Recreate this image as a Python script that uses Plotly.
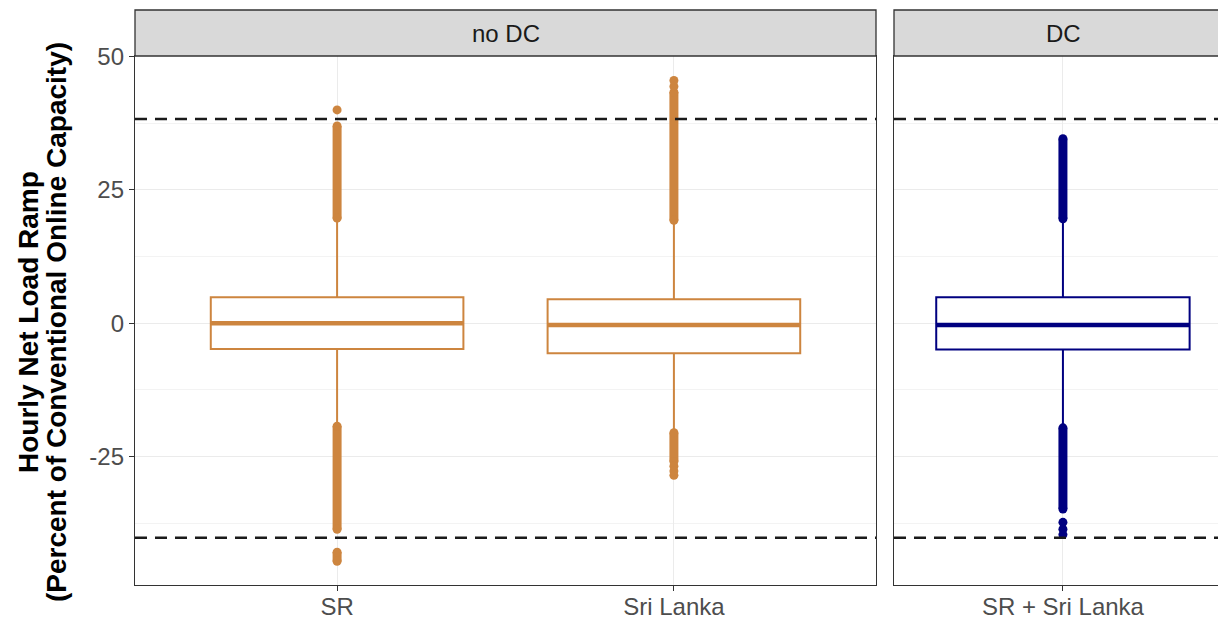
import plotly.graph_objects as go

# ---- data ---------------------------------------------------------------
categories = ["SR", "Sri Lanka", "SR + Sri Lanka"]
panels = ["no DC", "no DC", "DC"]
positions = [1, 2, 1]
colors = ["#CD853F", "#CD853F", "#000080"]

q1 = [-4.8, -5.6, -4.9]
median = [0.0, -0.3, -0.3]
q3 = [4.9, 4.5, 4.9]
lower_whisker = [-19.3, -20.5, -19.6]
upper_whisker = [19.7, 19.3, 19.6]

# densely packed outliers, given as (low, high) runs plus isolated points
outlier_runs = [
    [(19.7, 37.0), (-38.6, -19.3), (-44.6, -42.9)],
    [(19.3, 43.3), (-25.9, -20.5)],
    [(19.6, 34.6), (-34.8, -19.6)],
]
outlier_points = [
    [40.0],
    [44.4, 45.5, -26.8, -27.7, -28.5],
    [-37.3, -38.6, -39.6],
]

ramp_limits = [38.3, -40.2]
y_ticks = [50, 25, 0, -25]
y_tick_labels = ["50", "25", "0", "-25"]

# ---- figure -------------------------------------------------------------
W, H = 1218, 619
FONT = "Liberation Sans, Arial, sans-serif"

fig = go.Figure()

for i, cat in enumerate(categories):
    xa = "x" if panels[i] == "no DC" else "x2"
    ya = "y" if panels[i] == "no DC" else "y2"
    c = colors[i]
    p = positions[i]
    fig.add_trace(go.Box(
        x=[p], q1=[q1[i]], median=[median[i]], q3=[q3[i]],
        lowerfence=[lower_whisker[i]], upperfence=[upper_whisker[i]],
        width=0.75, whiskerwidth=0, boxpoints=False,
        fillcolor="white", line=dict(color=c, width=2),
        xaxis=xa, yaxis=ya, showlegend=False, name=cat,
    ))
    # thicker median bar
    fig.add_trace(go.Scatter(
        x=[p - 0.375, p + 0.375], y=[median[i], median[i]], mode="lines",
        line=dict(color=c, width=4.5), xaxis=xa, yaxis=ya,
        showlegend=False, hoverinfo="skip",
    ))
    for lo, hi in outlier_runs[i]:
        fig.add_trace(go.Scatter(
            x=[p, p], y=[lo, hi], mode="lines+markers",
            line=dict(color=c, width=9), marker=dict(color=c, size=9),
            xaxis=xa, yaxis=ya, showlegend=False, hoverinfo="skip",
        ))
    fig.add_trace(go.Scatter(
        x=[p] * len(outlier_points[i]), y=outlier_points[i], mode="markers",
        marker=dict(color=c, size=9), xaxis=xa, yaxis=ya,
        showlegend=False,
    ))

# dashed ramp limits in both panels
for xr, yr in (("x domain", "y"), ("x2 domain", "y2")):
    for v in ramp_limits:
        fig.add_shape(type="line", xref=xr, yref=yr, x0=0, x1=1, y0=v, y1=v,
                      line=dict(color="#1A1A1A", width=2.5, dash="12px,8px"),
                      layer="above")

px = lambda v: v / W
py = lambda v: 1 - v / H

dom_y = [py(585), py(56)]
yrange = [-49.05, 50.1]
minor_grid = dict(tickvals=[37.5, 12.5, -12.5, -37.5], showgrid=True,
                  gridcolor="#F3F3F3", gridwidth=1, ticks="")

axis_common = dict(
    showline=True, linecolor="#333333", linewidth=1.3,
    ticklen=5, tickwidth=1.3, tickcolor="#333333",
    tickfont=dict(family=FONT, size=24, color="#4D4D4D"),
    showgrid=True, gridcolor="#EBEBEB", gridwidth=1.3, zeroline=False,
    automargin=False,
)

fig.update_layout(
    width=W, height=H, margin=dict(l=0, r=0, t=0, b=0, pad=0, autoexpand=False),
    paper_bgcolor="white", plot_bgcolor="white",
    xaxis=dict(domain=[px(135), px(876)], range=[0.4, 2.6], ticks="outside",
               tickvals=[1, 2], ticktext=categories[:2], mirror=True,
               ticklabelstandoff=-5, anchor="y", **axis_common),
    xaxis2=dict(domain=[px(894), 1], range=[0.5, 1.459], ticks="outside",
                tickvals=[1], ticktext=categories[2:], mirror=True,
                ticklabelstandoff=-5, anchor="y2", **axis_common),
    yaxis=dict(domain=dom_y, range=yrange, tickvals=y_ticks,
               ticktext=y_tick_labels, mirror=True,
               anchor="x", ticks="outside", minor=minor_grid, **axis_common),
    yaxis2=dict(domain=dom_y, range=yrange, tickvals=y_ticks, ticks="",
                showticklabels=False, anchor="x2", matches="y",
                minor=minor_grid, **axis_common),
)

# facet strips
strip_y0, strip_y1 = py(56), py(10)
for x0, x1 in ((px(135), px(876)), (px(894), 1.02)):
    fig.add_shape(type="rect", xref="paper", yref="paper",
                  x0=x0, x1=x1, y0=strip_y0, y1=strip_y1,
                  fillcolor="#D9D9D9", line=dict(color="#333333", width=1.3),
                  layer="above")
for label, xc in (("no DC", 505.5), ("DC", 1063)):
    fig.add_annotation(text=label, x=px(xc), y=py(33), xref="paper", yref="paper",
                       xanchor="center", yanchor="middle", showarrow=False,
                       font=dict(family=FONT, size=24, color="#1A1A1A"))

# y-axis title (two lines)
for txt, xc in (("Hourly Net Load Ramp", 28),
                ("(Percent of Conventional Online Capacity)", 56)):
    fig.add_annotation(text=f"<b>{txt}</b>", x=px(xc), y=py(322),
                       xref="paper", yref="paper", textangle=-90,
                       xanchor="center", yanchor="middle", showarrow=False,
                       font=dict(family=FONT, size=28, color="black"))

fig.write_html("out.html")
